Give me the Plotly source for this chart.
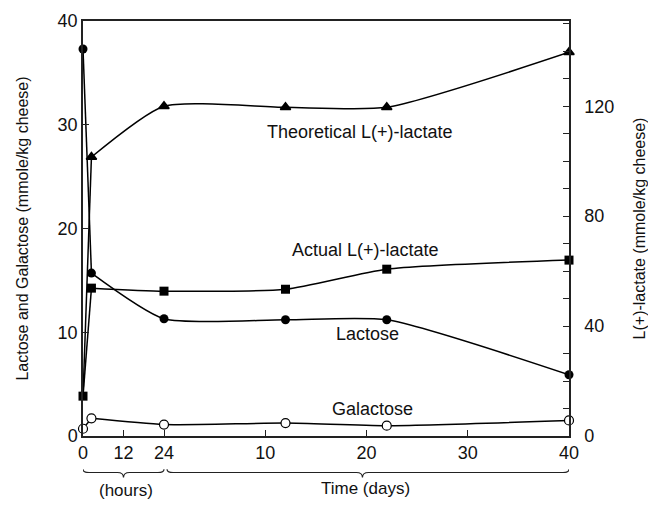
import plotly.graph_objects as go

# ---- data ----
hours = [0, 2.5, 24]          # hours segment
days = [12, 22, 40]           # days segment

lactose_h = [37.3, 15.7, 11.3]
lactose_d = [11.2, 11.2, 5.9]
galactose_h = [0.7, 1.7, 1.1]
galactose_d = [1.25, 1.0, 1.5]
actual_lac_h = [14.5, 53.8, 52.7]
actual_lac_d = [53.4, 60.7, 64.0]
theor_lac_h = [14.5, 101.5, 120.0]
theor_lac_d = [119.6, 119.6, 139.6]

x_tick_hours = [0, 12, 24]
x_tick_days = [10, 20, 30, 40]

HOUR_SCALE = 8 / 24   # axis units per hour
DAY_OFFSET = 8        # axis position of day 0


def pos_h(h):
    return [v * HOUR_SCALE for v in h]


def pos_d(d):
    return [v + DAY_OFFSET for v in d]


X = pos_h(hours) + pos_d(days)
FONT = "Liberation Sans, Arial, sans-serif"
BLACK = "#000000"
SMOOTH = 0.6

fig = go.Figure()


def add_series(yvals, marker, yaxis="y", sizes=None):
    # straight segment from time 0 to the first sampling in hours
    fig.add_trace(go.Scatter(x=X[:2], y=yvals[:2], mode="lines", yaxis=yaxis,
                             line=dict(color=BLACK, width=1.5), hoverinfo="skip"))
    # smoothed curve for the rest
    fig.add_trace(go.Scatter(x=X[1:], y=yvals[1:], mode="lines", yaxis=yaxis,
                             line=dict(color=BLACK, width=1.5, shape="spline", smoothing=SMOOTH),
                             hoverinfo="skip"))
    m = dict(marker)
    if sizes is not None:
        m["size"] = sizes
    fig.add_trace(go.Scatter(x=X, y=yvals, mode="markers", yaxis=yaxis, marker=m,
                             opacity=1, cliponaxis=False))


add_series(lactose_h + lactose_d, dict(symbol="circle", size=9, color=BLACK))
add_series(galactose_h + galactose_d,
           dict(symbol="circle", size=9, color="white", line=dict(color=BLACK, width=1.2)))
add_series(theor_lac_h + theor_lac_d,
           dict(symbol="triangle-up", color=BLACK, opacity=1, line=dict(color=BLACK, width=1.5)),
           yaxis="y2", sizes=[0, 9, 9, 9, 9, 9])
add_series(actual_lac_h + actual_lac_d, dict(symbol="square", size=9, color=BLACK), yaxis="y2")

tickvals = pos_h(x_tick_hours) + pos_d(x_tick_days)
ticktext = [str(v) for v in x_tick_hours] + [str(v) for v in x_tick_days]

axis_common = dict(showline=True, linecolor="#222", linewidth=1.5, ticks="inside",
                   tickcolor="#222", ticklen=6, tickwidth=1.2, showgrid=False,
                   zeroline=False, automargin=False,
                   tickfont=dict(family=FONT, size=18, color="#111"))

fig.update_layout(
    width=648, height=510,
    margin=dict(l=83, r=79, t=21, b=74),
    plot_bgcolor="white", paper_bgcolor="white",
    showlegend=False,
    xaxis=dict(range=[0, 48], tickvals=tickvals, ticktext=ticktext, mirror=True,
               ticklabelstandoff=0, **axis_common),
    yaxis=dict(range=[0, 40], dtick=10,
               title=dict(text="Lactose and Galactose (mmole/kg cheese)",
                          font=dict(family=FONT, size=16, color="#111"), standoff=25),
               **axis_common),
    yaxis2=dict(range=[0, 151], dtick=40, overlaying="y", side="right",
                ticklabelstandoff=10,
                minor=dict(dtick=10, ticks="inside", ticklen=6, tickcolor="#222"),
                title=dict(text="L(+)-lactate (mmole/kg cheese)",
                           font=dict(family=FONT, size=16, color="#111"), standoff=20),
                **axis_common),
)

# series labels
labels = [
    ("Theoretical L(+)-lactate", 27.4, 29.3),
    ("Actual L(+)-lactate", 27.9, 17.9),
    ("Lactose", 28.1, 9.8),
    ("Galactose", 28.6, 2.6),
]
for txt, lx, ly in labels:
    fig.add_annotation(x=lx, y=ly, xref="x", yref="y", text=txt, showarrow=False,
                       font=dict(family=FONT, size=18, color="#111"))

# segment labels below axis
fig.add_annotation(x=4.25, y=-0.159, xref="x", yref="paper", text="(hours)", showarrow=False,
                   font=dict(family=FONT, size=17, color="#111"))
fig.add_annotation(x=27.95, y=-0.154, xref="x", yref="paper", text="Time (days)", showarrow=False,
                   font=dict(family=FONT, size=17, color="#111"))


def brace(x0, x1, xm, yl=-0.088, ye=-0.080, yt=-0.100, r=0.6):
    return (f"M {x0},{ye} Q {x0},{yl} {x0 + r},{yl} L {xm - r},{yl} "
            f"Q {xm},{yl} {xm},{yt} Q {xm},{yl} {xm + r},{yl} L {x1 - r},{yl} "
            f"Q {x1},{yl} {x1},{ye}")


fig.add_shape(type="path", xref="x", yref="paper", path=brace(0, 8, 4),
              line=dict(color="#222", width=1.2))
fig.add_shape(type="path", xref="x", yref="paper", path=brace(8.3, 48, 27.6),
              line=dict(color="#222", width=1.2))

fig.write_html("out.html", config={"displayModeBar": False},
               post_script="document.body.style.margin='0';document.body.style.overflow='hidden';")
